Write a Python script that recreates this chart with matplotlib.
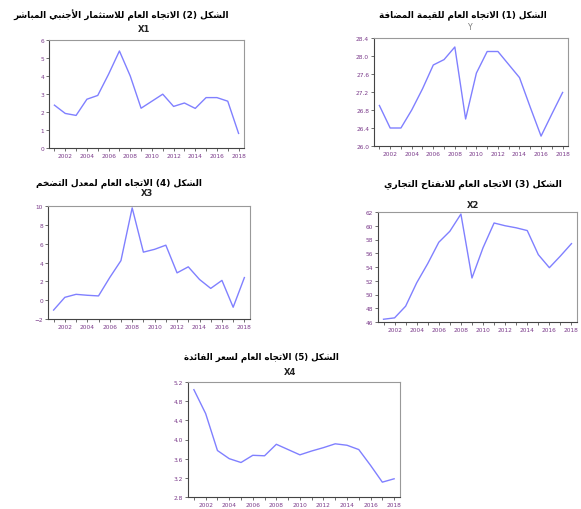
import matplotlib.pyplot as plt
from matplotlib.ticker import MultipleLocator

years = list(range(2001, 2019))

Y = [26.9, 26.4, 26.4, 26.8, 27.27, 27.8, 27.92, 28.2, 26.6, 27.62, 28.1, 28.1,
     27.81, 27.52, 26.86, 26.22, 26.71, 27.19]
X1 = [2.38, 1.92, 1.81, 2.71, 2.92, 4.1, 5.39, 4.0, 2.21, 2.6, 2.99, 2.31,
      2.5, 2.2, 2.8, 2.8, 2.6, 0.81]
X2 = [46.4, 46.6, 48.3, 51.7, 54.5, 57.6, 59.2, 61.7, 52.4, 56.8, 60.4, 60.0,
      59.7, 59.3, 55.8, 53.9, 55.6, 57.4]
X3 = [-1.05, 0.3, 0.62, 0.52, 0.45, 2.4, 4.2, 9.8, 5.1, 5.4, 5.84, 2.9,
      3.54, 2.2, 1.25, 2.1, -0.75, 2.4]
X4 = [5.04, 4.54, 3.77, 3.6, 3.52, 3.67, 3.66, 3.9, 3.79, 3.68, 3.76, 3.83,
      3.91, 3.88, 3.79, 3.46, 3.11, 3.18]

titles = {
    "Y": "الشكل (1) الاتجاه العام للقيمة المضافة",
    "X1": "الشكل (2) الاتجاه العام للاستثمار الأجنبي المباشر",
    "X2": "الشكل (3) الاتجاه العام للانفتاح التجاري",
    "X3": "الشكل (4) الاتجاه العام لمعدل التضخم",
    "X4": "الشكل (5) الاتجاه العام لسعر الفائدة",
}

# presentation forms: isolated, final, initial, medial
FORMS = {
    "ا": (0xFE8D, 0xFE8E), "أ": (0xFE83, 0xFE84), "د": (0xFEA9, 0xFEAA),
    "ر": (0xFEAD, 0xFEAE), "ة": (0xFE93, 0xFE94),
    "ب": (0xFE8F, 0xFE90, 0xFE91, 0xFE92), "ت": (0xFE95, 0xFE96, 0xFE97, 0xFE98),
    "ث": (0xFE99, 0xFE9A, 0xFE9B, 0xFE9C), "ج": (0xFE9D, 0xFE9E, 0xFE9F, 0xFEA0),
    "ح": (0xFEA1, 0xFEA2, 0xFEA3, 0xFEA4), "خ": (0xFEA5, 0xFEA6, 0xFEA7, 0xFEA8),
    "س": (0xFEB1, 0xFEB2, 0xFEB3, 0xFEB4), "ش": (0xFEB5, 0xFEB6, 0xFEB7, 0xFEB8),
    "ض": (0xFEBD, 0xFEBE, 0xFEBF, 0xFEC0), "ع": (0xFEC9, 0xFECA, 0xFECB, 0xFECC),
    "ف": (0xFED1, 0xFED2, 0xFED3, 0xFED4), "ق": (0xFED5, 0xFED6, 0xFED7, 0xFED8),
    "ك": (0xFED9, 0xFEDA, 0xFEDB, 0xFEDC), "ل": (0xFEDD, 0xFEDE, 0xFEDF, 0xFEE0),
    "م": (0xFEE1, 0xFEE2, 0xFEE3, 0xFEE4), "ن": (0xFEE5, 0xFEE6, 0xFEE7, 0xFEE8),
    "ه": (0xFEE9, 0xFEEA, 0xFEEB, 0xFEEC), "ي": (0xFEF1, 0xFEF2, 0xFEF3, 0xFEF4),
    "ئ": (0xFE89, 0xFE8A, 0xFE8B, 0xFE8C),
    "لا": (0xFEFB, 0xFEFC), "لأ": (0xFEF7, 0xFEF8),
}


def shape_word(word):
    chars = []
    i = 0
    while i < len(word):
        if word[i:i + 2] in ("لا", "لأ"):
            chars.append(word[i:i + 2])
            i += 2
        else:
            chars.append(word[i])
            i += 1
    out = []
    for k, c in enumerate(chars):
        if c not in FORMS:
            out.append(c)
            continue
        f = FORMS[c]
        prev = chars[k - 1] if k > 0 else None
        nxt = chars[k + 1] if k + 1 < len(chars) else None
        jp = prev is not None and prev in FORMS and len(FORMS[prev]) == 4
        jn = len(f) == 4 and nxt is not None and nxt in FORMS
        if jp and jn:
            out.append(chr(f[3]))
        elif jp:
            out.append(chr(f[1]))
        elif jn:
            out.append(chr(f[2]))
        else:
            out.append(chr(f[0]))
    return "".join(reversed(out))


def rtl(text):
    words = []
    for w in text.split(" "):
        if any(ch in FORMS for ch in w):
            words.append(shape_word(w))
        else:
            words.append(w)
    return " ".join(reversed(words))


W, H = 581, 510
fig = plt.figure(figsize=(W / 100, H / 100), dpi=100)
renderer = fig.canvas.get_renderer()
line_color = "#8080ff"
tick_color = "#7a3a8a"


def fitted_title(text, x0, x1, y):
    # shrink the heading until it spans x0..x1 pixels
    t = fig.text((x0 + x1) / 2 / W, 1 - y / H, rtl(text), ha="center", va="center",
                 fontsize=10, fontweight="bold", family="DejaVu Sans")
    width = t.get_window_extent(renderer).width
    t.set_fontsize(10 * (x1 - x0) / width)
    return t


def panel(box, values, ylim, ystep, name, name_xy, name_style):
    l, t, r, b = box
    ax = fig.add_axes([l / W, 1 - b / H, (r - l) / W, (b - t) / H])
    ax.plot(years, values, color=line_color, lw=1.0)
    ax.set_xlim(2000.5, 2018.5)
    ax.set_ylim(*ylim)
    ax.yaxis.set_major_locator(MultipleLocator(ystep))
    ax.set_xticks(years, minor=True)
    ax.set_xticks(years[1::2])
    ax.tick_params(axis="both", which="both", direction="out", length=2, width=0.6,
                   colors="#555555", labelsize=4.2, labelcolor=tick_color, pad=1.5)
    for side in ("left", "bottom"):
        ax.spines[side].set_color("#444444")
        ax.spines[side].set_linewidth(0.8)
    for side in ("top", "right"):
        ax.spines[side].set_color("#999999")
        ax.spines[side].set_linewidth(0.8)
    if ystep < 1:
        ax.yaxis.set_major_formatter(lambda v, p: f"{v:.1f}")
    fig.text(name_xy[0] / W, 1 - name_xy[1] / H, name, ha="center", va="center",
             **name_style)
    return ax


bold_name = dict(fontsize=6, fontweight="bold", color="#222222")
gray_name = dict(fontsize=5.5, color="#777777")

panel((49, 41, 244, 149), X1, (0, 6), 1, "X1", (144, 30), bold_name)
panel((374, 39, 568, 147), Y, (26.0, 28.4), 0.4, "Y", (470, 28), gray_name)
panel((48, 207, 250, 320), X3, (-2, 10), 2, "X3", (147, 194), bold_name)
panel((378, 213, 577, 323), X2, (46, 62), 2, "X2", (473, 206), bold_name)
panel((188, 383, 400, 498), X4, (2.8, 5.2), 0.4, "X4", (290, 373), bold_name)

fitted_title(titles["X1"], 12, 230, 15)
fitted_title(titles["Y"], 378, 547, 15)
fitted_title(titles["X3"], 35, 203, 183)
fitted_title(titles["X2"], 383, 562, 184)
fitted_title(titles["X4"], 183, 340, 357)

fig.savefig("out.png", dpi=100)
